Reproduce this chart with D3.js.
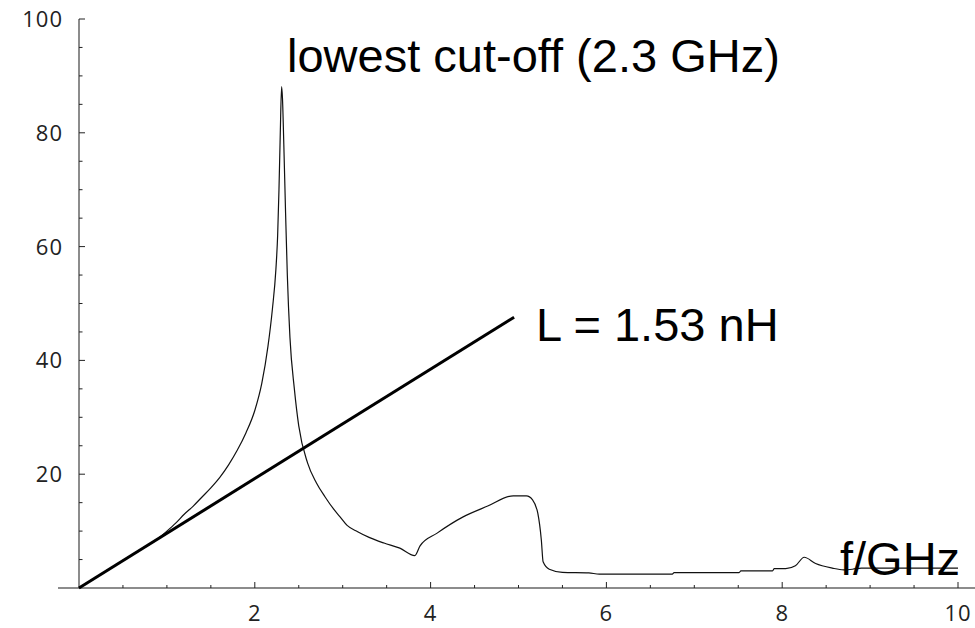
<!DOCTYPE html>
<html>
<head>
<meta charset="utf-8">
<script src="https://cdn.jsdelivr.net/npm/d3@7"></script>
<style>
  body { margin: 0; background: #fff; }
  .tick-label { font-family: "Open Sans", sans-serif; font-size: 22px; fill: #222; letter-spacing: 1px; }
  .note { font-family: "Liberation Sans", Arial, sans-serif; font-size: 47px; fill: #000; }
</style>
</head>
<body>
<div id="chart"></div>
<script>
// size of svg
const width = 975, height = 628;

// frequency (GHz) and impedance values
const freq = [0, 0.3, 0.6, 0.9, 1.0, 1.1, 1.2, 1.3, 1.4, 1.5, 1.6, 1.7, 1.8, 1.9, 2.0,
  2.08, 2.15, 2.2, 2.24, 2.26, 2.275, 2.29, 2.305, 2.315, 2.33, 2.35, 2.37, 2.4, 2.45,
  2.5, 2.6, 2.7, 2.8, 2.9, 2.97, 3.05, 3.17, 3.3, 3.47, 3.65, 3.82, 3.88, 4.07, 4.37,
  4.65, 4.94, 5.09, 5.16, 5.22, 5.26, 5.28, 5.35, 5.5, 5.8, 5.92, 6.75, 6.77, 7.51,
  7.53, 7.89, 7.91, 8.04, 8.15, 8.25, 8.38, 8.57, 8.7, 8.8, 8.9, 10];
const value = [0, 2.9, 5.8, 8.7, 10.0, 11.4, 13.0, 14.4, 16.0, 17.6, 19.4, 21.6, 24.2, 27.3, 31.2,
  36, 42.5, 49, 56, 62, 70, 80, 88.1, 86, 78, 66, 55, 44, 35,
  28.5, 22, 18.5, 16, 13.8, 12.5, 11.0, 9.9, 8.9, 7.9, 7.0, 5.7, 7.4, 9.6, 12.5,
  14.4, 16.2, 16.2, 15.5, 13.1, 8.4, 4.6, 3.3, 2.75, 2.65, 2.45, 2.45, 2.7, 2.7,
  3.0, 3.0, 3.4, 3.4, 3.9, 5.4, 4.3, 3.5, 3.2, 3.3, 3.5, 3.5];

// inductance line L = 1.53 nH (end points)
const lineFreq = [0, 4.95];
const lineValue = [0, 47.6];

// tick labels
const xTicks = [2, 4, 6, 8, 10];
const yTicks = [20, 40, 60, 80, 100];

const x = d3.scaleLinear().domain([0, 10]).range([79, 958]);
const y = d3.scaleLinear().domain([0, 100]).range([588, 19]);

let svg = d3.select('#chart')
  .append('svg')
    .attr('width', width)
    .attr('height', height);

// axes lines
svg.append('line')
  .attr('x1', 58).attr('x2', 975)
  .attr('y1', y(0)).attr('y2', y(0))
  .attr('stroke', '#666').attr('stroke-width', 1.5);
svg.append('line')
  .attr('x1', x(0)).attr('x2', x(0))
  .attr('y1', y(0)).attr('y2', y(100))
  .attr('stroke', '#666').attr('stroke-width', 1.5);

// x ticks (minor every 0.5, major every 2)
const xMinor = d3.range(0.5, 10.01, 0.5);
svg.selectAll('.xtick')
  .data(xMinor)
  .join('line')
    .attr('class', 'xtick')
    .attr('x1', d => x(d)).attr('x2', d => x(d))
    .attr('y1', y(0))
    .attr('y2', d => y(0) - (d % 2 === 0 ? 6 : 3))
    .attr('stroke', '#222').attr('stroke-width', 1);

svg.selectAll('.xlabel')
  .data(xTicks)
  .join('text')
    .attr('class', 'tick-label')
    .attr('x', d => x(d))
    .attr('y', 621)
    .attr('text-anchor', 'middle')
    .text(d => d);

// y ticks (minor every 5, major every 20)
const yMinor = d3.range(5, 100.01, 5);
svg.selectAll('.ytick')
  .data(yMinor)
  .join('line')
    .attr('class', 'ytick')
    .attr('x1', x(0))
    .attr('x2', d => x(0) + (d % 20 === 0 ? 6 : 3.5))
    .attr('y1', d => y(d)).attr('y2', d => y(d))
    .attr('stroke', '#222').attr('stroke-width', 1);

svg.selectAll('.ylabel')
  .data(yTicks)
  .join('text')
    .attr('class', 'tick-label')
    .attr('x', 63)
    .attr('y', d => y(d))
    .attr('dy', '0.36em')
    .attr('text-anchor', 'end')
    .text(d => d);

// impedance curve
const curve = d3.line()
  .x(d => x(d[0]))
  .y(d => y(d[1]))
  .curve(d3.curveMonotoneX);

svg.append('path')
  .datum(d3.zip(freq, value))
  .attr('d', curve)
  .attr('fill', 'none')
  .attr('stroke', '#111')
  .attr('stroke-width', 1.2);

// inductance line
svg.append('path')
  .datum(d3.zip(lineFreq, lineValue))
  .attr('d', curve)
  .attr('fill', 'none')
  .attr('stroke', '#000')
  .attr('stroke-width', 3);

// annotations
svg.append('text').attr('class', 'note')
  .attr('x', 287).attr('y', 72)
  .text('lowest cut-off (2.3 GHz)');
svg.append('text').attr('class', 'note')
  .attr('x', 536).attr('y', 341)
  .text('L = 1.53 nH');
svg.append('text').attr('class', 'note')
  .attr('x', 840).attr('y', 575)
  .text('f/GHz');
</script>
</body>
</html>
